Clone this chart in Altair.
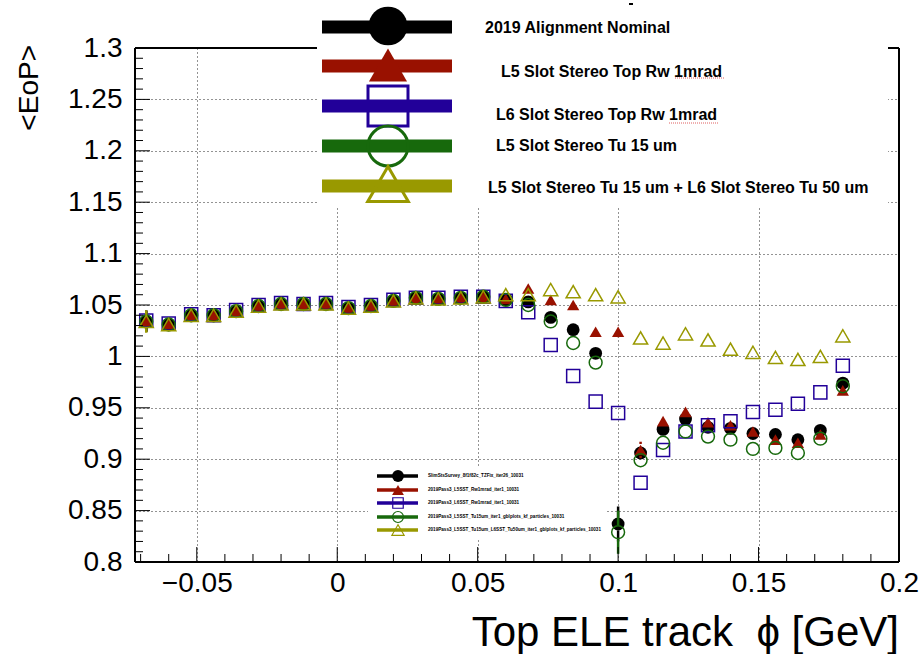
import altair as alt
import pandas as pd

# ---------------------------------------------------------------- data
# bin centres of the top electron track phi histogram
phi = [-0.068, -0.060, -0.052, -0.044, -0.036, -0.028, -0.020, -0.012,
       -0.004, 0.004, 0.012, 0.020, 0.028, 0.036, 0.044, 0.052,
       0.060, 0.068, 0.076, 0.084, 0.092, 0.100, 0.108, 0.116,
       0.124, 0.132, 0.140, 0.148, 0.156, 0.164, 0.172, 0.180]

eop_nominal = [1.034, 1.031, 1.040, 1.040, 1.044, 1.049, 1.051, 1.051,
               1.051, 1.047, 1.049, 1.054, 1.057, 1.056, 1.057, 1.058,
               1.055, 1.053, 1.038, 1.026, 1.003, 0.837, 0.906, 0.929,
               0.939, 0.931, 0.930, 0.925, 0.924, 0.919, 0.928, 0.974]
eop_l5_rw = [1.034, 1.031, 1.040, 1.040, 1.044, 1.049, 1.051, 1.051,
             1.051, 1.047, 1.049, 1.054, 1.057, 1.056, 1.057, 1.058,
             1.056, 1.066, 1.055, 1.050, 1.024, 1.024, 0.909, 0.937,
             0.946, 0.936, 0.933, 0.927, 0.919, 0.916, 0.924, 0.967]
eop_l6_rw = [1.035, 1.032, 1.041, 1.040, 1.045, 1.050, 1.052, 1.051,
             1.052, 1.048, 1.050, 1.055, 1.057, 1.057, 1.058, 1.058,
             1.054, 1.043, 1.011, 0.981, 0.956, 0.945, 0.877, 0.909,
             0.927, 0.933, 0.937, 0.946, 0.948, 0.954, 0.965, 0.991]
eop_l5_tu = [1.034, 1.031, 1.040, 1.040, 1.044, 1.049, 1.051, 1.051,
             1.051, 1.047, 1.049, 1.054, 1.057, 1.056, 1.057, 1.058,
             1.055, 1.050, 1.034, 1.013, 0.994, 0.829, 0.899, 0.916,
             0.927, 0.922, 0.919, 0.910, 0.911, 0.906, 0.920, 0.971]
eop_l5l6_tu = [1.034, 1.031, 1.040, 1.040, 1.044, 1.049, 1.051, 1.051,
               1.051, 1.047, 1.049, 1.054, 1.057, 1.056, 1.057, 1.058,
               1.060, 1.060, 1.065, 1.063, 1.060, 1.058, 1.018, 1.013,
               1.022, 1.016, 1.007, 1.004, 0.999, 0.997, 1.000, 1.020]

err_nominal = [0.010, 0.004, 0.003, 0.003, 0.003, 0.003, 0.003, 0.003,
               0.003, 0.003, 0.003, 0.003, 0.003, 0.003, 0.003, 0.003,
               0.003, 0.003, 0.004, 0.004, 0.005, 0.017, 0.006, 0.004,
               0.004, 0.004, 0.004, 0.004, 0.004, 0.004, 0.004, 0.005]
err_l5_rw = [0.010, 0.004, 0.003, 0.003, 0.003, 0.003, 0.003, 0.003,
             0.003, 0.003, 0.003, 0.003, 0.003, 0.003, 0.003, 0.003,
             0.003, 0.003, 0.004, 0.004, 0.005, 0.006, 0.008, 0.004,
             0.004, 0.004, 0.004, 0.004, 0.004, 0.004, 0.004, 0.005]
err_l6_rw = [0.010, 0.004, 0.003, 0.003, 0.003, 0.003, 0.003, 0.003,
             0.003, 0.003, 0.003, 0.003, 0.003, 0.003, 0.003, 0.003,
             0.003, 0.003, 0.004, 0.004, 0.005, 0.005, 0.005, 0.004,
             0.004, 0.004, 0.004, 0.004, 0.004, 0.004, 0.004, 0.005]
err_l5_tu = [0.010, 0.004, 0.003, 0.003, 0.003, 0.003, 0.003, 0.003,
             0.003, 0.003, 0.003, 0.003, 0.003, 0.003, 0.003, 0.003,
             0.003, 0.003, 0.004, 0.004, 0.005, 0.021, 0.006, 0.004,
             0.004, 0.004, 0.004, 0.004, 0.004, 0.004, 0.004, 0.005]
err_l5l6_tu = [0.011, 0.004, 0.003, 0.003, 0.003, 0.003, 0.003, 0.003,
               0.003, 0.003, 0.003, 0.003, 0.003, 0.003, 0.003, 0.003,
               0.003, 0.003, 0.004, 0.004, 0.005, 0.005, 0.005, 0.004,
               0.004, 0.004, 0.004, 0.004, 0.004, 0.004, 0.004, 0.005]

labels = ["2019 Alignment Nominal",
          "L5 Slot Stereo Top Rw 1mrad",
          "L6 Slot Stereo Top Rw 1mrad",
          "L5 Slot Stereo Tu 15 um",
          "L5 Slot Stereo Tu 15 um + L6 Slot Stereo Tu 50 um"]
file_tags = ["SlimStsSurvey_8f1f82c_TZFix_iter26_10031",
             "2019Pass3_L5SST_Rw1mrad_iter1_10031",
             "2019Pass3_L6SST_Rw1mrad_iter1_10031",
             "2019Pass3_L5SST_Tu15um_iter1_gblplots_kf_particles_10031",
             "2019Pass3_L5SST_Tu15um_L6SST_Tu50um_iter1_gblplots_kf_particles_10031"]
series_eop = [eop_nominal, eop_l5_rw, eop_l6_rw, eop_l5_tu, eop_l5l6_tu]
series_err = [err_nominal, err_l5_rw, err_l6_rw, err_l5_tu, err_l5l6_tu]

x_major = [-0.05, 0, 0.05, 0.1, 0.15, 0.2]
x_minor = [-0.07, -0.06, -0.04, -0.03, -0.02, -0.01, 0.01, 0.02, 0.03, 0.04,
           0.06, 0.07, 0.08, 0.09, 0.11, 0.12, 0.13, 0.14, 0.16, 0.17, 0.18, 0.19]
y_major = [0.8, 0.85, 0.9, 0.95, 1.0, 1.05, 1.1, 1.15, 1.2, 1.25, 1.3]
y_minor = [0.81, 0.82, 0.83, 0.84, 0.86, 0.87, 0.88, 0.89, 0.91, 0.92, 0.93, 0.94,
           0.96, 0.97, 0.98, 0.99, 1.01, 1.02, 1.03, 1.04, 1.06, 1.07, 1.08, 1.09,
           1.11, 1.12, 1.13, 1.14, 1.16, 1.17, 1.18, 1.19, 1.21, 1.22, 1.23, 1.24,
           1.26, 1.27, 1.28, 1.29]

# ---------------------------------------------------------------- style
FONT = "Liberation Sans"
W, H = 764, 514
colors = ["#000000", "#991100", "#220099", "#17690c", "#999900"]
shapes = ["circle", "triangle-up", "square", "circle", "triangle-up"]
filled = [True, True, False, False, False]
sizes = [165, 150, 170, 165, 200]
big_sizes = [1500, 1450, 1600, 1600, 1650]
small_sizes = [140, 140, 110, 120, 150]
# half height of a marker in <EoP> units: error bars start outside the marker
marker_gap = [0.0063, 0.0058, 0.0070, 0.0070, 0.0065]

xscale = alt.Scale(domain=[-0.072, 0.2], nice=False, zero=False)
yscale = alt.Scale(domain=[0.8, 1.3], nice=False, zero=False)

grid_style = dict(grid=True, gridDash=[1, 3], gridColor="#000000", gridWidth=1,
                  gridOpacity=0.85, ticks=False, tickSize=0, domain=False,
                  labelFont=FONT, labelFontSize=28, labelColor="#000000",
                  labelOverlap=False, format="~g", title=None)
x_axis = alt.Axis(values=x_major, labelPadding=7, labelBaseline="top",
                  labelFlush=False, **grid_style)
y_axis = alt.Axis(values=y_major, labelPadding=13, labelAlign="right",
                  labelBaseline="middle", **grid_style)

X = lambda f: alt.X(f, type="quantitative", scale=xscale, axis=x_axis)
Y = lambda f: alt.Y(f, type="quantitative", scale=yscale, axis=y_axis)
one = pd.DataFrame({"o": [0]})

layers = []

# data points with their error bars, drawn in series order
for i, name in enumerate(labels):
    d = pd.DataFrame({"phi": phi, "eop": series_eop[i], "err": series_err[i]})
    g = marker_gap[i]
    bars = pd.concat([
        pd.DataFrame({"phi": d["phi"], "a": d["eop"] - d["err"], "b": d["eop"] - g}),
        pd.DataFrame({"phi": d["phi"], "a": d["eop"] + g, "b": d["eop"] + d["err"]}),
    ])
    bars = bars[(bars["b"] - bars["a"]) > 0]
    layers.append(alt.Chart(bars).mark_rule(color=colors[i], strokeWidth=2.5).encode(
        x=X("phi"), y=Y("a"), y2="b:Q"))
    layers.append(alt.Chart(d).mark_point(shape=shapes[i], filled=filled[i], size=sizes[i],
                                          color=colors[i], opacity=1,
                                          strokeWidth=0 if filled[i] else 1.5).encode(
        x=X("phi"), y=Y("eop")))

# frame
frame = [(0, W, 0, 0), (0, W, H, H), (0, 0, 0, H), (W, W, 0, H)]
for x1, x2, y1, y2 in frame:
    layers.append(alt.Chart(one).mark_rule(color="#000000", strokeWidth=2).encode(
        x=alt.value(x1), x2=alt.value(x2), y=alt.value(y1), y2=alt.value(y2)))

# inward ticks
tick_len = {"major": 15, "minor": 8}
for kind, vals in (("major", x_major), ("minor", x_minor)):
    layers.append(alt.Chart(pd.DataFrame({"v": vals})).mark_rule(
        color="#000000", strokeWidth=1).encode(
        x=X("v"), y=alt.value(H), y2=alt.value(H - tick_len[kind])))
for kind, vals in (("major", y_major), ("minor", y_minor)):
    layers.append(alt.Chart(pd.DataFrame({"v": vals})).mark_rule(
        color="#000000", strokeWidth=1).encode(
        y=Y("v"), x=alt.value(0), x2=alt.value(tick_len[kind])))

# large legend box
layers.append(alt.Chart(one).mark_rect(color="white").encode(
    x=alt.value(182), x2=alt.value(753), y=alt.value(-48), y2=alt.value(159)))
leg_line_y = [-21, 18, 58, 98, 138]
leg_mark_y = [-22, 17, 58, 98, 136]
leg_text_x = [350, 366, 361, 361, 353]
leg_text_y = [-20, 24, 67, 98, 140]
for i, name in enumerate(labels):
    layers.append(alt.Chart(one).mark_rule(color=colors[i], strokeWidth=13).encode(
        x=alt.value(187), x2=alt.value(317), y=alt.value(leg_line_y[i])))
    layers.append(alt.Chart(one).mark_point(
        shape=shapes[i], filled=filled[i], size=big_sizes[i], color=colors[i],
        opacity=1, strokeWidth=0 if filled[i] else 3).encode(
        x=alt.value(253), y=alt.value(leg_mark_y[i])))
    layers.append(alt.Chart(pd.DataFrame({"t": [name]})).mark_text(
        font=FONT, fontSize=16, fontWeight="bold", align="left",
        baseline="middle", color="#000000").encode(
        text="t:N", x=alt.value(leg_text_x[i]), y=alt.value(leg_text_y[i])))

# spell-check underlines under "1mrad"
for x1, x2, yy in ((540, 590, 30), (534, 584, 75)):
    layers.append(alt.Chart(one).mark_rule(color="#e06060", strokeWidth=1,
                                           strokeDash=[1, 1]).encode(
        x=alt.value(x1), x2=alt.value(x2), y=alt.value(yy)))
layers.append(alt.Chart(one).mark_rule(color="#000000", strokeWidth=2).encode(
    x=alt.value(494), x2=alt.value(498), y=alt.value(-44)))

# small legend box with file tags
layers.append(alt.Chart(one).mark_rect(color="white").encode(
    x=alt.value(233), x2=alt.value(471), y=alt.value(418), y2=alt.value(490)))
small_y = [428, 442, 455, 469, 482]
for i, tag in enumerate(file_tags):
    layers.append(alt.Chart(one).mark_rule(color=colors[i], strokeWidth=3.5).encode(
        x=alt.value(242), x2=alt.value(283), y=alt.value(small_y[i])))
    layers.append(alt.Chart(one).mark_point(
        shape=shapes[i], filled=filled[i], size=small_sizes[i], color=colors[i],
        opacity=1, strokeWidth=0 if filled[i] else 1.2).encode(
        x=alt.value(263), y=alt.value(small_y[i])))
    layers.append(alt.Chart(pd.DataFrame({"t": [tag]})).mark_text(
        font=FONT, fontSize=4.6, fontWeight="bold", align="left",
        baseline="middle", color="#000000").encode(
        text="t:N", x=alt.value(293), y=alt.value(small_y[i])))

# axis titles
layers.append(alt.Chart(pd.DataFrame({"t": ["<EoP>"]})).mark_text(
    font=FONT, fontSize=28, angle=270, align="right", baseline="middle",
    color="#000000").encode(text="t:N", x=alt.value(-105), y=alt.value(-3)))
layers.append(alt.Chart(pd.DataFrame({"t": ["Top ELE track\u00a0\u00a0\u03d5 [GeV]"]})).mark_text(
    font=FONT, fontSize=42, align="right", baseline="alphabetic",
    color="#000000").encode(text="t:N", x=alt.value(W), y=alt.value(598)))

chart = alt.layer(*layers).properties(
    width=W, height=H,
    autosize=alt.AutoSizeParams(type="none"),
    padding={"left": 135, "top": 48, "right": 24, "bottom": 92},
    background="white",
).configure_view(stroke=None)

chart.save("out.html", embed_options={"renderer": "svg", "actions": False})
